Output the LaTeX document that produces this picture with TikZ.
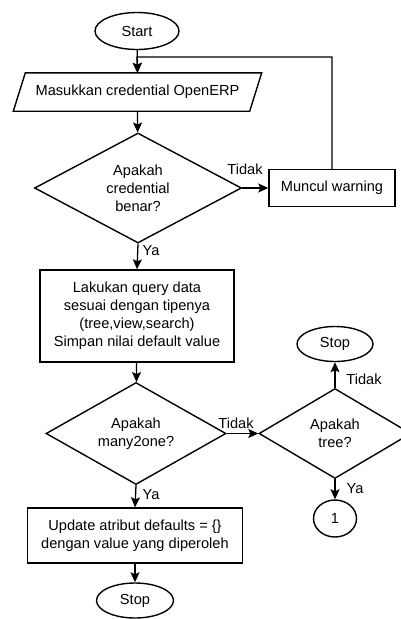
\documentclass[tikz,border=0pt]{standalone}
\usepackage{fontspec}
\setmainfont{Liberation Sans}
\usetikzlibrary{shapes.geometric,arrows.meta}

\begin{document}
\begin{tikzpicture}[x=1pt,y=1pt,yscale=-1,xscale=1,
	every node/.style={font=\fontsize{14.6}{18}\selectfont},
	terminal/.style={draw,ellipse,line width=1.4pt,inner sep=0pt},
	iobox/.style={rectangle,inner sep=0pt},
	procbox/.style={draw,rectangle,line width=1.4pt,inner sep=0pt,align=center},
	decision/.style={draw,diamond,line width=1.4pt,inner sep=0pt,align=center},
	flow/.style={line width=1.3pt,-{Stealth[length=10pt,width=9pt,inset=2pt]}}]
			\useasboundingbox (0,0) rectangle (401,619);

			%Shape: Ellipse [id:start]
			\node [terminal,minimum width=84pt,minimum height=37pt] (start) at (137,31) {Start};
			%Shape: Parallelogram [id:input]
			\node [iobox,minimum width=236pt,minimum height=38pt] (input) at (137.5,92) {Masukkan credential OpenERP};
			\draw [line width=1.4pt] ([xshift=-6pt]input.south west) -- ([xshift=6pt]input.north west) -- ([xshift=6pt]input.north east) -- ([xshift=-6pt]input.south east) -- cycle;
			%Shape: Diamond [id:cekcred]
			\node [decision,aspect=1.88,minimum width=207pt,minimum height=110pt] (cekcred) at (138,188) {Apakah\\credential\\benar?};
			%Shape: Rectangle [id:warning]
			\node [procbox,minimum width=126pt,minimum height=37pt] (warning) at (332,188) {Muncul warning};
			%Shape: Rectangle [id:query]
			\node [procbox,minimum width=194pt,minimum height=92pt] (query) at (137,316) {Lakukan query data\\sesuai dengan tipenya\\(tree,view,search)\\Simpan nilai default value};
			%Shape: Diamond [id:cekm2o]
			\node [decision,aspect=1.76,minimum width=180pt,minimum height=102pt] (cekm2o) at (136,433.5) {Apakah\\many2one?};
			%Shape: Diamond [id:cektree]
			\node [decision,aspect=1.69,minimum width=152pt,minimum height=90pt] (cektree) at (335,433.5) {Apakah\\tree?};
			%Shape: Ellipse [id:stopA]
			\node [terminal,minimum width=76pt,minimum height=35pt] (stopA) at (335,344) {Stop};
			%Shape: Circle [id:konektor]
			\node [terminal,minimum width=43pt,minimum height=37pt] (konektor) at (335,518.5) {1};
			%Shape: Rectangle [id:update]
			\node [procbox,minimum width=215pt,minimum height=55pt] (update) at (135,535.5) {Update atribut defaults = \{\}\\dengan value yang diperoleh};
			%Shape: Ellipse [id:stopB]
			\node [terminal,minimum width=77pt,minimum height=35pt] (stopB) at (135,600.5) {Stop};

			%Straight Lines [id:loop]
			\coordinate (loop) at (137,57);
			\draw [flow] (start) -- (input.north);
			\draw [flow] (warning.north) |- (loop) -- (input.north);
			\draw [flow] (input.south) -- (cekcred);
			\draw [flow] (cekcred.east) -- (warning.west);
			\draw [flow] (cekcred.south) -- (query.north);
			\draw [flow] (query) -- (cekm2o);
			\draw [flow] (cekm2o.east) -- (cektree.west);
			\draw [flow] (cektree.north) -- (stopA.south);
			\draw [flow] (cektree.south) -- (konektor.north);
			\draw [flow] (cekm2o.south) -- (update.north);
			\draw [flow] (update) -- (stopB);

			% Text Node
			\node (tidakA) at (245,169) {Tidak};
			% Text Node
			\node (yaA) at (151,251) {Ya};
			% Text Node
			\node (tidakB) at (236,423) {Tidak};
			% Text Node
			\node (tidakC) at (364,379) {Tidak};
			% Text Node
			\node (yaB) at (151,495) {Ya};
			% Text Node
			\node (yaC) at (355,489) {Ya};

\end{tikzpicture}
\end{document}
